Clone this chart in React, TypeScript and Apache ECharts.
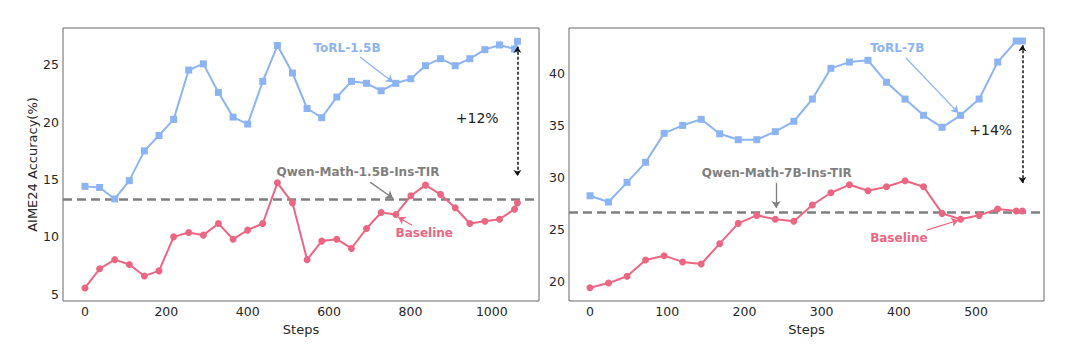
import { useEffect, useRef } from "react";
import * as echarts from "echarts";

// ---------- data ----------
const stepsLeft = [0, 36, 73, 109, 146, 182, 218, 255, 291, 328, 364, 400, 437, 473, 510, 546, 582, 619, 655, 692, 728, 764, 801, 837, 874, 910, 946, 983, 1019, 1056, 1063];
const torl15 = [14.4, 14.3, 13.3, 14.9, 17.5, 18.85, 20.25, 24.56, 25.1, 22.6, 20.45, 19.84, 23.57, 26.7, 24.3, 21.2, 20.4, 22.2, 23.57, 23.4, 22.75, 23.4, 23.8, 24.94, 25.55, 24.94, 25.55, 26.34, 26.75, 26.4, 27.07];
const base15 = [5.53, 7.2, 8.0, 7.58, 6.58, 7.02, 9.99, 10.37, 10.14, 11.16, 9.79, 10.58, 11.16, 14.71, 12.96, 8.0, 9.62, 9.79, 8.98, 10.72, 12.12, 11.95, 13.58, 14.51, 13.7, 12.53, 11.16, 11.36, 11.53, 12.41, 12.96];
const qwen15 = 13.3;

const stepsRight = [0, 24, 48, 72, 96, 120, 144, 168, 192, 216, 240, 264, 288, 312, 336, 360, 384, 408, 432, 456, 480, 504, 528, 552, 560];
const torl7 = [28.25, 27.65, 29.54, 31.46, 34.24, 35.0, 35.59, 34.2, 33.63, 33.63, 34.4, 35.4, 37.53, 40.48, 41.08, 41.25, 39.14, 37.53, 35.97, 34.82, 35.97, 37.53, 41.08, 43.1, 43.1];
const base7 = [19.42, 19.87, 20.52, 22.08, 22.5, 21.9, 21.7, 23.65, 25.6, 26.37, 25.99, 25.8, 27.36, 28.54, 29.3, 28.73, 29.12, 29.69, 29.12, 26.56, 25.99, 26.37, 26.98, 26.78, 26.78];
const qwen7 = 26.7;

const xTicksLeft = [0, 200, 400, 600, 800, 1000];
const yTicksLeft = [5, 10, 15, 20, 25];
const xTicksRight = [0, 100, 200, 300, 400, 500];
const yTicksRight = [20, 25, 30, 35, 40];

const seriesNames = ["ToRL-1.5B", "Baseline", "ToRL-7B", "Baseline"];
const baselineModels = ["Qwen-Math-1.5B-Ins-TIR", "Qwen-Math-7B-Ins-TIR"];
const gains = ["+12%", "+14%"];

// ---------- styles ----------
const BLUE = "#8cb4f2";
const RED = "#ea6682";
const GRAY = "#7f7f7f";
const FONT = '"DejaVu Sans", sans-serif';

// annotations in data coordinates
const labels = [
  { grid: 0, text: seriesNames[0], color: BLUE, at: [644, 26.49], from: [676, 25.7], to: [757, 23.5] },
  { grid: 0, text: baselineModels[0], color: GRAY, at: [671, 15.65], from: [701, 14.77], to: [757, 13.37] },
  { grid: 0, text: seriesNames[1], color: RED, at: [834, 10.3], from: [804, 11.0], to: [770, 11.7] },
  { grid: 1, text: seriesNames[2], color: BLUE, at: [398, 42.46], from: [409, 41.5], to: [477, 36.2] },
  { grid: 1, text: baselineModels[1], color: GRAY, at: [242, 30.46], from: [241, 29.5], to: [241, 27.07] },
  { grid: 1, text: seriesNames[3], color: RED, at: [400, 24.2], from: [436, 24.96], to: [477, 25.9] },
];
const gaps = [
  { grid: 0, text: gains[0], at: [964, 20.37], x: 1063, top: 26.6, bottom: 15.3 },
  { grid: 1, text: gains[1], at: [519, 34.56], x: 560, top: 42.7, bottom: 29.47 },
];

function pairs(xs: number[], ys: number[]) {
  return xs.map((x, i) => [x, ys[i]]);
}

function arrowLines(grid: number) {
  const out: any[] = [];
  labels
    .filter((l) => l.grid === grid)
    .forEach((l) => {
      const ls = { color: l.color, width: 1.3, type: "solid" };
      out.push([
        { coord: l.from, symbol: "none", lineStyle: ls },
        { coord: l.to, symbol: "arrow", symbolSize: 7, lineStyle: ls },
      ]);
    });
  gaps
    .filter((g) => g.grid === grid)
    .forEach((g) => {
      const ls = { color: "#111", width: 1.5, type: [3, 2] };
      out.push([
        { coord: [g.x, g.top], symbol: "arrow", symbolSize: 6, lineStyle: ls },
        { coord: [g.x, g.bottom], symbol: "arrow", symbolSize: 6, lineStyle: ls },
      ]);
    });
  return out;
}

export default function App() {
  const ref = useRef<HTMLDivElement>(null);
  useEffect(() => {
    if (!ref.current) return;
    const chart = echarts.init(ref.current, undefined, { renderer: "svg" });
    const axisLabel = { color: "#262626", fontSize: 12.5, fontFamily: FONT, margin: 4, formatter: (v: number) => String(v) };
    const grids = [
      { left: 63, top: 28, width: 476, height: 273 },
      { left: 569, top: 28, width: 475, height: 273 },
    ].map((g) => ({ ...g, show: true, borderColor: "#666", borderWidth: 1, backgroundColor: "transparent" }));

    const xAxis = [
      { min: -54, max: 1116, ticks: xTicksLeft },
      { min: -27.2, max: 588, ticks: xTicksRight },
    ].map((a, i) => ({
      type: "value",
      gridIndex: i,
      min: a.min,
      max: a.max,
      name: "Steps",
      nameLocation: "middle",
      nameGap: 18,
      nameTextStyle: { color: "#262626", fontSize: 13, fontFamily: FONT },
      axisLine: { show: false },
      axisTick: { show: false },
      splitLine: { show: false },
      axisLabel: { ...axisLabel, customValues: a.ticks },
    }));
    const yAxis = [
      { min: 4.39, max: 28.23, ticks: yTicksLeft, name: "AIME24 Accuracy(%)" },
      { min: 18.15, max: 44.35, ticks: yTicksRight, name: "" },
    ].map((a, i) => ({
      type: "value",
      gridIndex: i,
      min: a.min,
      max: a.max,
      name: a.name,
      nameLocation: "middle",
      nameGap: 24,
      nameTextStyle: { color: "#262626", fontSize: 13, fontFamily: FONT },
      axisLine: { show: false },
      axisTick: { show: false },
      splitLine: { show: false },
      axisLabel: { ...axisLabel, customValues: a.ticks },
    }));

    const mk = (name: string, grid: number, data: number[][], color: string, symbol: string, size: number, extra: any = {}) => ({
      type: "line",
      name,
      xAxisIndex: grid,
      yAxisIndex: grid,
      data,
      symbol,
      symbolSize: size,
      showSymbol: true,
      lineStyle: { color, width: 2 },
      itemStyle: { color, borderWidth: 0 },
      z: 3,
      ...extra,
    });
    const hLine = (v: number) => ({
      silent: true,
      symbol: ["none", "none"],
      label: { show: false },
      lineStyle: { color: GRAY, width: 2.5, type: [9, 5] },
      emphasis: { disabled: true },
      data: [{ yAxis: v }],
      z: 2,
    });
    const annLines = (g: number) => ({
      silent: true,
      label: { show: false },
      emphasis: { disabled: true },
      data: arrowLines(g),
    });

    chart.setOption({
      animation: false,
      textStyle: { fontFamily: FONT },
      grid: grids,
      xAxis,
      yAxis,
      series: [
        mk(seriesNames[0], 0, pairs(stepsLeft, torl15), BLUE, "rect", 7, { markLine: hLine(qwen15) }),
        mk(seriesNames[1], 0, pairs(stepsLeft, base15), RED, "circle", 7, { markLine: annLines(0) }),
        mk(seriesNames[2], 1, pairs(stepsRight, torl7), BLUE, "rect", 7, { markLine: hLine(qwen7) }),
        mk(seriesNames[3], 1, pairs(stepsRight, base7), RED, "circle", 7, { markLine: annLines(1) }),
      ],
    });

    const graphic: any[] = [];
    labels.forEach((l) => {
      const [px, py] = chart.convertToPixel({ gridIndex: l.grid } as any, l.at) as number[];
      graphic.push({
        type: "text",
        x: px,
        y: py,
        z: 10,
        style: { text: l.text, fill: l.color, font: `bold 12px ${FONT}`, align: "center", verticalAlign: "middle", textAlign: "center", textVerticalAlign: "middle" },
      });
    });
    gaps.forEach((g) => {
      const [px, py] = chart.convertToPixel({ gridIndex: g.grid } as any, g.at) as number[];
      graphic.push({
        type: "text",
        x: px,
        y: py,
        z: 10,
        style: { text: g.text, fill: "#222", font: `14px ${FONT}`, align: "center", verticalAlign: "middle", textAlign: "center", textVerticalAlign: "middle" },
      });
    });
    chart.setOption({ graphic });

    return () => chart.dispose();
  }, []);
  return <div ref={ref} style={{ position: "absolute", left: 0, top: 0, width: 1080, height: 357, background: "#fff" }} />;
}
